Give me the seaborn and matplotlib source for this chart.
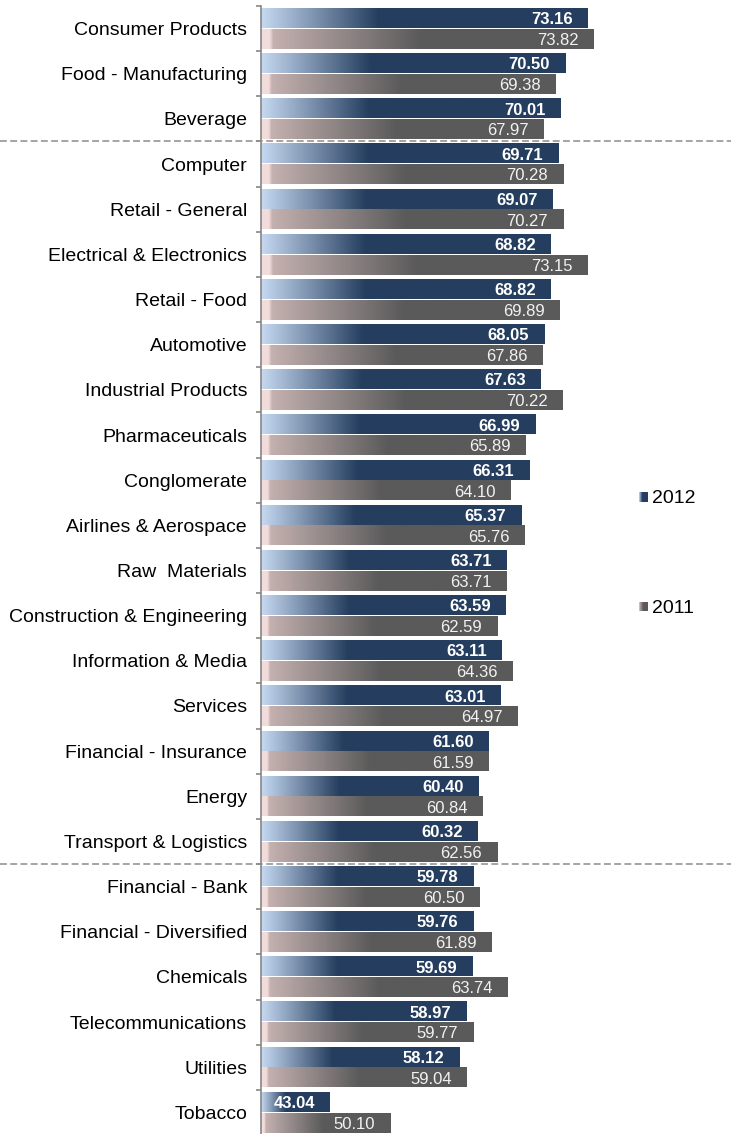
import numpy as np
import pandas as pd
import matplotlib
matplotlib.use("Agg")
import matplotlib.pyplot as plt
from matplotlib.colors import LinearSegmentedColormap
import seaborn as sns

# data
categories = ["Consumer Products", "Food - Manufacturing", "Beverage", "Computer",
              "Retail - General", "Electrical & Electronics", "Retail - Food",
              "Automotive", "Industrial Products", "Pharmaceuticals", "Conglomerate",
              "Airlines & Aerospace", "Raw  Materials", "Construction & Engineering",
              "Information & Media", "Services", "Financial - Insurance", "Energy",
              "Transport & Logistics", "Financial - Bank", "Financial - Diversified",
              "Chemicals", "Telecommunications", "Utilities", "Tobacco"]
v2012 = [73.16, 70.50, 70.01, 69.71, 69.07, 68.82, 68.82, 68.05, 67.63, 66.99,
         66.31, 65.37, 63.71, 63.59, 63.11, 63.01, 61.60, 60.40, 60.32, 59.78,
         59.76, 59.69, 58.97, 58.12, 43.04]
v2011 = [73.82, 69.38, 67.97, 70.28, 70.27, 73.15, 69.89, 67.86, 70.22, 65.89,
         64.10, 65.76, 63.71, 62.59, 64.36, 64.97, 61.59, 60.84, 62.56, 60.50,
         61.89, 63.74, 59.77, 59.04, 50.10]
years = ["2012", "2011"]
separators = [2.5, 18.5]  # dashed lines after Beverage and Transport & Logistics

df = pd.DataFrame({
    "category": categories * 2,
    "value": v2012 + v2011,
    "year": ["2012"] * len(categories) + ["2011"] * len(categories),
})

sns.set_style("white")
plt.rcParams["font.family"] = ["Liberation Sans", "DejaVu Sans"]
plt.rcParams["text.color"] = "black"
plt.rcParams["ytick.labelcolor"] = "black"

# gradients like the Excel fills
cm12 = LinearSegmentedColormap.from_list(
    "c12", [(0, "#c6d9f1"), (0.36, "#253e5f"), (1, "#253e5f")])
cm11 = LinearSegmentedColormap.from_list(
    "c11", [(0, "#f2dcdb"), (0.025, "#f2dcdb"), (0.035, "#c4b1b0"),
            (0.48, "#5a5a5a"), (1, "#5a5a5a")])

W, H = 731, 1134
fig = plt.figure(figsize=(W / 100, H / 100), dpi=100)
ax_l, ax_r, ax_t, ax_b = 261, 620, 6, 1135
ax = fig.add_axes([ax_l / W, 1 - ax_b / H, (ax_r - ax_l) / W, (ax_b - ax_t) / H])

sns.barplot(data=df, y="category", x="value", hue="year", hue_order=years,
            orient="h", width=0.92, gap=0.06, legend=False, ax=ax)

xmin = 35
px_per_unit = 8.566
xmax = xmin + (ax_r - ax_l) / px_per_unit

grad = np.linspace(0, 1, 256).reshape(1, -1)
n = len(categories)
for i, p in enumerate(ax.patches[:2 * n]):
    x_end = p.get_x() + p.get_width()
    y0, h = p.get_y(), p.get_height()
    is12 = i < n
    ax.imshow(grad, extent=[xmin, x_end, y0 + h, y0], aspect="auto",
              cmap=cm12 if is12 else cm11, interpolation="bilinear", zorder=2)
    p.set_facecolor("none")
    p.set_edgecolor("none")
    ax.annotate(f"{x_end:.2f}", xy=(x_end, y0 + h / 2), xytext=(-15, 0),
                textcoords="offset pixels", ha="right", va="center_baseline",
                fontsize=12, color="white" if is12 else "#f2f2f2",
                fontweight="bold" if is12 else "normal", zorder=3)

ax.set_xlim(xmin, xmax)
ax.set_ylim(n - 0.5, -0.5)
ax.set_xlabel("")
ax.set_ylabel("")
ax.set_xticks([])

for s in ["top", "right", "bottom"]:
    ax.spines[s].set_visible(False)
ax.spines["left"].set_color("#868686")
ax.spines["left"].set_linewidth(1.2)

ax.set_yticks(range(n))
ax.set_yticklabels(categories, fontsize=14, color="black")
ax.set_yticks(np.arange(n + 1) - 0.5, minor=True)
ax.tick_params(axis="y", which="major", length=0, pad=10)
ax.tick_params(axis="y", which="minor", length=3.5, width=1.2, color="#868686", left=True)

# dashed separators across the whole width
tr = ax.get_yaxis_transform()
x0_ax = -ax_l / (ax_r - ax_l)
x1_ax = (W - ax_l) / (ax_r - ax_l)
for y in separators:
    ax.plot([x0_ax, x1_ax], [y, y], transform=tr, clip_on=False,
            color="#8c8c8c", lw=1.1, dashes=(4.5, 2.2), zorder=4)

# legend with little gradient squares
for lab, cm, yc in [("2012", cm12, 497), ("2011", cm11, 606.5)]:
    lax = fig.add_axes([639 / W, 1 - (yc + 5) / H, 9 / W, 10 / H])
    lax.imshow(np.linspace(0, 1, 64).reshape(1, -1), cmap=cm, aspect="auto")
    lax.axis("off")
    fig.text(652 / W, 1 - yc / H, lab, fontsize=14, color="black",
             va="center_baseline", ha="left")

fig.savefig("out.png", dpi=100)
